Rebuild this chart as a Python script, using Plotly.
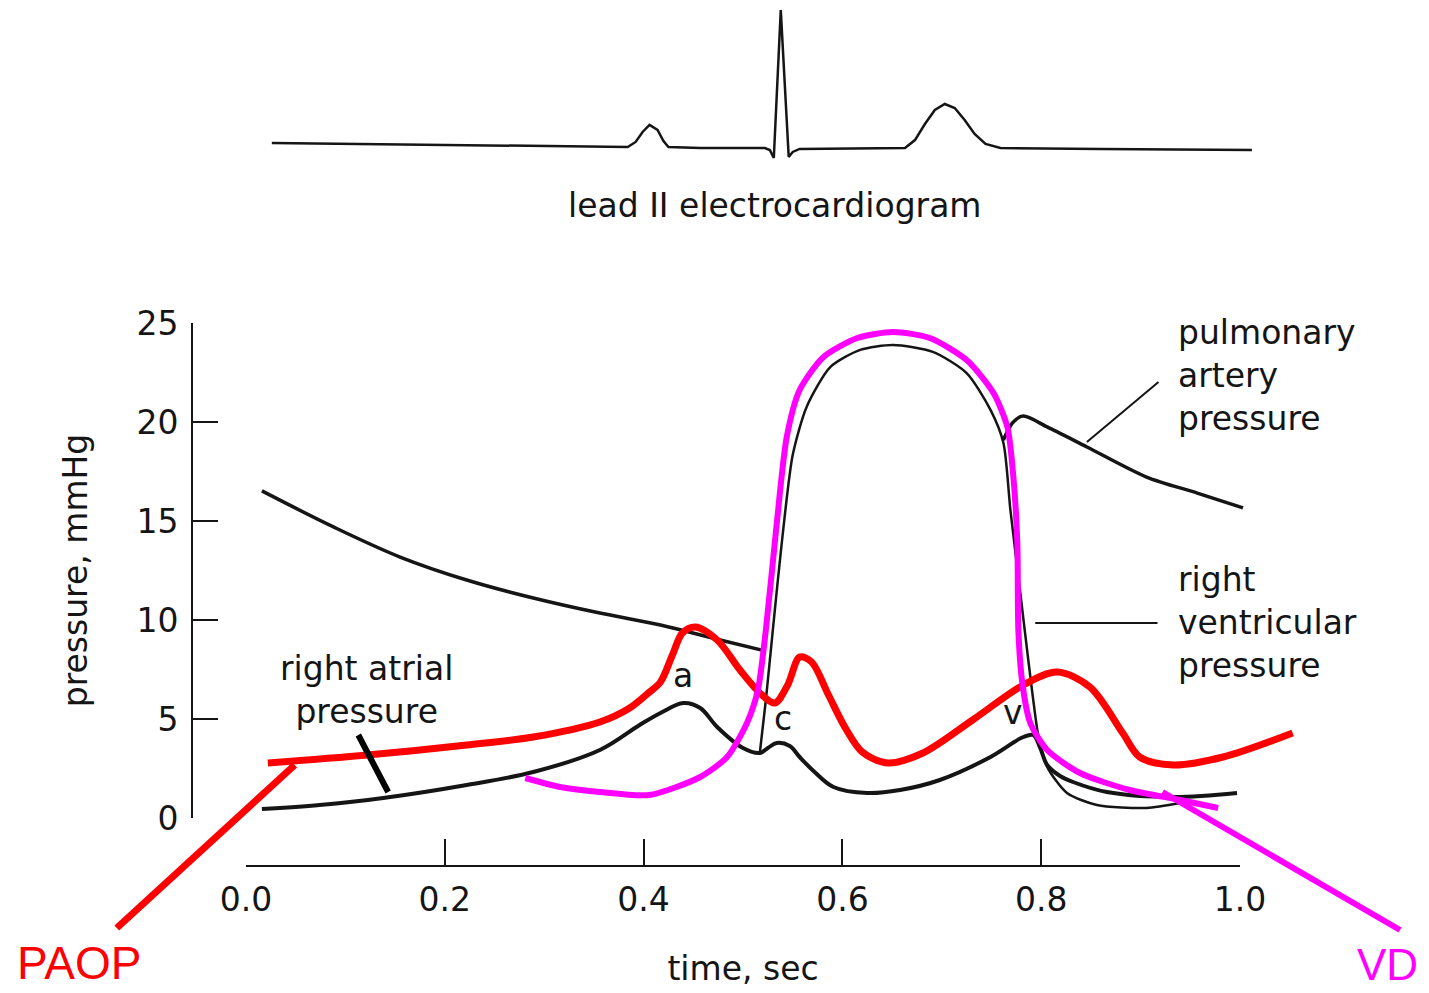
import plotly.graph_objects as go

# ---------------- data (time in s, pressure in mmHg, ECG in mV) ----------------
ecg_t = [0.026, 0.205, 0.384, 0.392, 0.399, 0.406, 0.414, 0.420, 0.425, 0.457, 0.522,
         0.527, 0.531, 0.538, 0.546, 0.550, 0.557, 0.663, 0.673, 0.683, 0.693, 0.703,
         0.713, 0.723, 0.733, 0.744, 0.759, 0.859, 1.012]
ecg_mv = [0.022, 0.007, -0.007, 0.030, 0.104, 0.156, 0.119, 0.037, -0.007, -0.015, -0.015,
          -0.030, -0.089, 1.007, -0.081, -0.044, -0.022, -0.015, 0.044, 0.163, 0.267, 0.311,
          0.281, 0.193, 0.089, 0.015, -0.015, -0.022, -0.030]

pa1_t = [0.016, 0.088, 0.155, 0.222, 0.289, 0.356, 0.417, 0.477, 0.519]
pa1_p = [16.52, 14.70, 13.18, 12.02, 11.11, 10.35, 9.75, 8.99, 8.48]
pa2_t = [0.762, 0.771, 0.782, 0.806, 0.846, 0.906, 0.957, 1.003]
pa2_p = [19.09, 19.95, 20.30, 19.75, 18.74, 17.22, 16.41, 15.66]

rv_t = [0.517, 0.523, 0.530, 0.539, 0.550, 0.564, 0.588, 0.618, 0.651, 0.691, 0.725,
        0.749, 0.762, 0.769, 0.779, 0.787, 0.792, 0.797, 0.806, 0.826, 0.856, 0.906, 0.940]
rv_p = [3.33, 5.96, 9.49, 13.89, 18.33, 20.76, 22.78, 23.64, 23.89, 23.54, 22.47,
        20.61, 18.94, 15.56, 11.36, 7.98, 5.96, 4.19, 2.58, 1.26, 0.66, 0.51, 0.76]

ra_t = [0.016, 0.074, 0.138, 0.222, 0.289, 0.356, 0.396, 0.417, 0.440, 0.457, 0.474,
        0.500, 0.517, 0.525, 0.534, 0.547, 0.557, 0.572, 0.591, 0.625, 0.658, 0.698,
        0.749, 0.782, 0.792, 0.799, 0.806, 0.819, 0.832, 0.866, 0.933, 0.997]
ra_p = [0.455, 0.657, 1.010, 1.667, 2.323, 3.434, 4.697, 5.303, 5.808, 5.556, 4.596,
        3.535, 3.283, 3.535, 3.788, 3.636, 3.081, 2.323, 1.566, 1.263, 1.414, 1.919,
        3.081, 4.091, 4.192, 3.535, 2.677, 2.121, 1.818, 1.313, 1.061, 1.263]

paop_t = [0.022, 0.122, 0.222, 0.289, 0.356, 0.386, 0.406, 0.417, 0.429, 0.439, 0.452,
          0.474, 0.497, 0.517, 0.532, 0.545, 0.557, 0.569, 0.586, 0.603, 0.620, 0.645,
          0.681, 0.731, 0.782, 0.816, 0.849, 0.882, 0.899, 0.933, 0.983, 1.053]
paop_p = [2.778, 3.182, 3.687, 4.091, 4.848, 5.556, 6.364, 6.869, 8.232, 9.343, 9.646,
          8.990, 7.475, 6.313, 5.808, 6.717, 8.131, 7.879, 6.212, 4.545, 3.333, 2.778,
          3.283, 4.949, 6.717, 7.374, 6.616, 4.293, 3.081, 2.677, 3.081, 4.293]

vd_t = [0.281, 0.316, 0.356, 0.406, 0.457, 0.484, 0.504, 0.515, 0.523, 0.534, 0.544,
        0.557, 0.581, 0.615, 0.651, 0.688, 0.725, 0.752, 0.766, 0.772, 0.776, 0.777,
        0.781, 0.789, 0.806, 0.839, 0.889, 0.940, 0.978]
vd_p = [2.020, 1.566, 1.313, 1.162, 2.071, 3.081, 4.798, 6.465, 9.495, 14.899, 19.242,
        21.616, 23.283, 24.242, 24.545, 24.242, 23.131, 21.465, 19.747, 17.222, 13.889, 9.495,
        6.818, 4.798, 3.434, 2.273, 1.414, 0.909, 0.505]

# label leader lines
paop_ptr_t, paop_ptr_p = [-0.130, 0.049], [-5.556, 2.677]
vd_ptr_t, vd_ptr_p = [0.922, 1.161], [1.313, -5.657]
ra_ptr_t, ra_ptr_p = [0.113, 0.143], [4.192, 1.313]
pa_ptr_t, pa_ptr_p = [0.846, 0.918], [18.99, 22.02]
rv_ptr_t, rv_ptr_p = [0.794, 0.917], [9.848, 9.848]

x_ticks = [0.0, 0.2, 0.4, 0.6, 0.8, 1.0]
x_ticktext = ["0.0", "0.2", "0.4", "0.6", "0.8", "1.0"]
y_ticks = [0, 5, 10, 15, 20, 25]

# ---------------- page calibration ----------------
W, H = 1429, 993
X0_PX, X1_PX = 246, 1240      # pixel of t=0 and t=1
Y0_PX, Y25_PX = 818, 323      # pixel of p=0 and p=25
YAX_PX = 192                  # y-axis line
XAX_PX = 866                  # x-axis line

px_per_t = (X1_PX - X0_PX) / 1.0
px_per_p = (Y0_PX - Y25_PX) / 25.0
x_range = [-X0_PX / px_per_t, (W - X0_PX) / px_per_t]
y_range = [-(H - Y0_PX) / px_per_p, Y0_PX / px_per_p]

ECG_BASE_PX, ECG_PX_PER_MV = 146, 135
ECG_BOTTOM_PX = 200
y3_range = [-(ECG_BOTTOM_PX - ECG_BASE_PX) / ECG_PX_PER_MV, ECG_BASE_PX / ECG_PX_PER_MV]

FONT = "DejaVu Sans"
BLACK = "#151515"
RED = "#ff0000"
MAG = "#ff00ff"

fig = go.Figure()

def line(x, y, color, width, shape="spline", smoothing=1.0, yaxis="y"):
    fig.add_trace(go.Scatter(x=x, y=y, mode="lines", yaxis=yaxis,
                             line=dict(color=color, width=width, shape=shape,
                                       smoothing=smoothing if shape == "spline" else None),
                             hoverinfo="skip", showlegend=False))

# ECG
line(ecg_t, ecg_mv, BLACK, 2.5, shape="linear", yaxis="y3")
# black pressure curves
line(pa1_t, pa1_p, BLACK, 3.5)
line(pa2_t, pa2_p, BLACK, 3.5, smoothing=0.8)
line(rv_t, rv_p, BLACK, 2.5, smoothing=0.7)
line(ra_t, ra_p, BLACK, 4)
# thin leaders
line(pa_ptr_t, pa_ptr_p, BLACK, 2, shape="linear")
line(rv_ptr_t, rv_ptr_p, BLACK, 2, shape="linear")
# PAOP (red) and VD (magenta)
line(paop_t, paop_p, RED, 7, smoothing=0.9)
line(paop_ptr_t, paop_ptr_p, RED, 7, shape="linear")
line(vd_t, vd_p, MAG, 6, smoothing=0.7)
line(vd_ptr_t, vd_ptr_p, MAG, 6, shape="linear")
line(ra_ptr_t, ra_ptr_p, "#000000", 6, shape="linear")

# invisible trace so the scale axes get drawn
fig.add_trace(go.Scatter(x=[0], y=[0], xaxis="x2", yaxis="y2", mode="markers",
                         marker=dict(opacity=0), hoverinfo="skip", showlegend=False))

tick_font = dict(family=FONT, size=33, color=BLACK)

fig.update_layout(
    width=W, height=H, autosize=False,
    margin=dict(l=0, r=0, t=0, b=0, pad=0, autoexpand=False),
    paper_bgcolor="white", plot_bgcolor="rgba(0,0,0,0)",
    xaxis=dict(domain=[0, 1], range=x_range, visible=False, fixedrange=True, automargin=False),
    yaxis=dict(domain=[0, 1], range=y_range, visible=False, fixedrange=True, automargin=False),
    yaxis3=dict(domain=[(H - ECG_BOTTOM_PX) / H, 1], range=y3_range, anchor="x",
                visible=False, fixedrange=True, automargin=False),
    xaxis2=dict(domain=[X0_PX / W, X1_PX / W], range=[0, 1], anchor="free",
                position=(H - XAX_PX) / H, showline=True, linecolor=BLACK, linewidth=2,
                ticks="inside", ticklen=26, tickwidth=2, tickcolor=BLACK,
                tickvals=x_ticks, ticktext=x_ticktext, tickfont=tick_font,
                ticklabelstandoff=4, automargin=False,
                showgrid=False, zeroline=False,
                title=dict(text="time, sec", font=tick_font, standoff=38)),
    yaxis2=dict(domain=[(H - Y0_PX) / H, (H - Y25_PX) / H], range=[0, 25], anchor="free",
                position=YAX_PX / W, showline=True, linecolor=BLACK, linewidth=2,
                ticks="inside", ticklen=25, tickwidth=2, tickcolor=BLACK,
                tickvals=y_ticks, tickfont=tick_font, ticklabelstandoff=6, automargin=False,
                showgrid=False, zeroline=False,
                title=dict(text="pressure, mmHg", font=tick_font, standoff=38)),
    font=dict(family=FONT, color=BLACK),
)

def note(text, x, y, size=33, color=BLACK, xanchor="center", align="center", family=FONT,
         yanchor="middle"):
    fig.add_annotation(text=text, x=x, y=y, xref="x", yref="y", showarrow=False,
                       xanchor=xanchor, yanchor=yanchor, align=align, borderpad=0,
                       font=dict(family=family, size=size, color=color))

note("lead II electrocardiogram", 0.532, 30.91)
note("pulmonary<br>artery<br>pressure", 0.937, 22.37, xanchor="left", align="left")
note("right<br>ventricular<br>pressure", 0.937, 9.85, xanchor="left", align="left")
note("right atrial<br>pressure", 0.121, 6.47)
note("a", 0.440, 7.22)
note("c", 0.540, 5.05)
note("v", 0.772, 5.35)
note("PAOP", -0.231, -8.70, size=46, color=RED, xanchor="left", family="Liberation Sans",
     yanchor="bottom")
note("VD", 1.180, -8.70, size=44, color=MAG, xanchor="right", family="Liberation Sans",
     yanchor="bottom")

fig.write_html("out.html")
